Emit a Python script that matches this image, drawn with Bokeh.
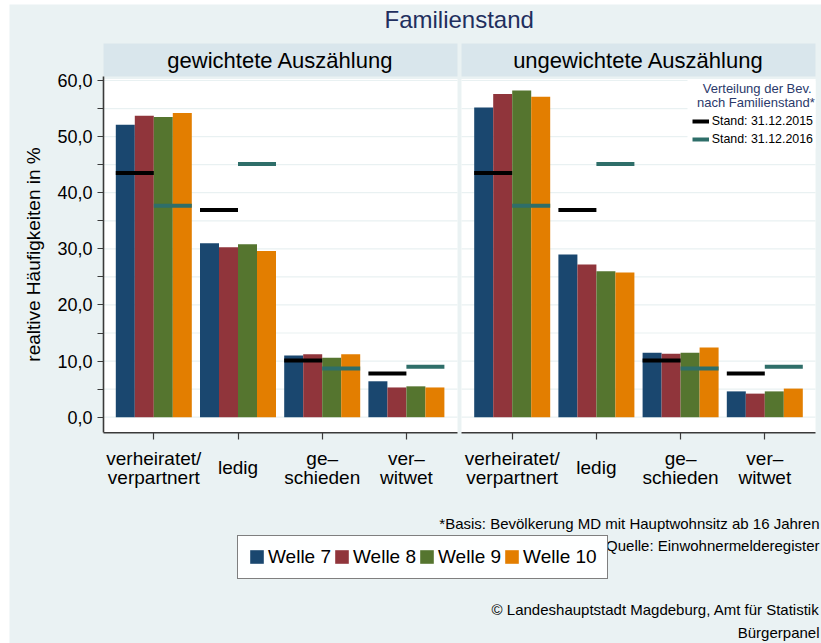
from bokeh.plotting import figure
from bokeh.models import ColumnDataSource, FixedTicker, Label, Legend, LegendItem, Range1d
from bokeh.embed import file_html
from bokeh.resources import INLINE

# ---------------- data ----------------
cat_lines = [["verheiratet/", "verpartnert"], ["ledig"], ["ge–", "schieden"], ["ver–", "witwet"]]
waves = ["Welle 7", "Welle 8", "Welle 9", "Welle 10"]
panel_titles = ["gewichtete Auszählung", "ungewichtete Auszählung"]

gew_w7 = [52.1, 31.0, 11.0, 6.4]
gew_w8 = [53.7, 30.3, 11.2, 5.3]
gew_w9 = [53.5, 30.8, 10.6, 5.5]
gew_w10 = [54.2, 29.6, 11.2, 5.3]

ungew_w7 = [55.2, 29.0, 11.5, 4.6]
ungew_w8 = [57.6, 27.2, 11.3, 4.2]
ungew_w9 = [58.2, 26.0, 11.5, 4.6]
ungew_w10 = [57.1, 25.8, 12.4, 5.1]

stand_2015 = [43.5, 36.9, 10.1, 7.8]
stand_2016 = [37.7, 45.1, 8.7, 9.0]

y_ticks = [0, 10, 20, 30, 40, 50, 60]
y_tick_labels = ["0,0", "10,0", "20,0", "30,0", "40,0", "50,0", "60,0"]
y_minor = [5, 15, 25, 35, 45, 55]
grid_ticks = [0, 5, 10, 15, 20, 25, 30, 35, 40, 45, 50, 55, 60]

ref_labels = ["Stand: 31.12.2015", "Stand: 31.12.2016"]
ref_title = ["Verteilung der Bev.", "nach Familienstand*"]
notes = ["*Basis: Bevölkerung MD mit Hauptwohnsitz ab 16 Jahren",
         "Quelle: Einwohnermelderegister",
         "© Landeshauptstadt Magdeburg, Amt für Statistik",
         "Bürgerpanel"]
title_text = "Familienstand"
y_label = "realtive Häufigkeiten in %"

# ---------------- style / geometry ----------------
BG = "#EAF2F3"
HEAD = "#D9E6EC"
GRID = "#E9F1F2"
AXC = "#3a3a3a"
NAVY = "#1F2F5E"
wave_colors = ["#1A476F", "#90353B", "#55752F", "#E37E00"]
c2015 = "#000000"
c2016 = "#2E6E69"
FONT = "Liberation Sans"

W, H = 821, 643
PXU = 84.2      # pixels per category step
X0PX = 153.3    # pixel position of first category centre
PYU = 5.612     # pixels per percent
Y0PX = 416.7    # pixel position of 0 %


def X(px):
    return 1 + (px - X0PX) / PXU


def Y(py):
    return (Y0PX - py) / PYU


p = figure(width=W, height=H, output_backend="svg", toolbar_location=None,
           x_range=Range1d(X(0), X(W)), y_range=Range1d(Y(H), Y(0)),
           min_border_left=0, min_border_right=0, min_border_top=0, min_border_bottom=0)
p.background_fill_color = "white"
p.border_fill_color = "white"
p.outline_line_color = None
p.grid.visible = False

shift = X(511.7) - 1
centers_l = [1, 2, 3, 4]
centers_r = [c + shift for c in centers_l]
centers = centers_l + centers_r
bw = 19 / PXU

# outer background
p.quad(left=[X(9)], right=[X(W)], bottom=[Y(H)], top=[Y(4)], fill_color=BG, line_color=None,
       level="image")

# panel backgrounds and headers
panels = [(103, 457), (461, 815)]
p.quad(left=[X(a) for a, b in panels], right=[X(b) for a, b in panels],
       bottom=[Y(432.3)] * 2, top=[Y(78.5)] * 2, fill_color="white", line_color=None, level="image")
p.quad(left=[X(a) for a, b in panels], right=[X(b) for a, b in panels],
       bottom=[Y(76)] * 2, top=[Y(43)] * 2, fill_color=HEAD, line_color=None, level="image")

# horizontal grid lines inside each panel
gx0, gx1, gy = [], [], []
for a, b in panels:
    for t in grid_ticks:
        gx0.append(X(a))
        gx1.append(X(b))
        gy.append(t)
p.segment(x0=gx0, x1=gx1, y0=gy, y1=gy, line_color=GRID, line_width=1.2)

# white box behind the reference-line legend
p.quad(left=[X(687)], right=[X(815)], bottom=[Y(148)], top=[Y(79)], fill_color="white", line_color=None)

# bars
series = [(gew_w7, ungew_w7), (gew_w8, ungew_w8), (gew_w9, ungew_w9), (gew_w10, ungew_w10)]
bar_renderers = []
for k, (g, u) in enumerate(series):
    xs = [c + (k - 1.5) * bw for c in centers]
    src = ColumnDataSource(dict(x=xs, top=list(g) + list(u)))
    r = p.vbar(x="x", top="top", bottom=0, width=bw, source=src,
               fill_color=wave_colors[k], line_color=None)
    bar_renderers.append(r)

# reference lines
vals15 = stand_2015 + stand_2015
vals16 = stand_2016 + stand_2016
r15 = p.segment(x0=[c - 2 * bw for c in centers], x1=centers, y0=vals15, y1=vals15,
                line_color=c2015, line_width=4)
r16 = p.segment(x0=centers, x1=[c + 2 * bw for c in centers], y0=vals16, y1=vals16,
                line_color=c2016, line_width=4)

# x axis lines per panel
p.segment(x0=[X(a) for a, b in panels], x1=[X(b) for a, b in panels],
          y0=[Y(432.3)] * 2, y1=[Y(432.3)] * 2, line_color=AXC, line_width=1.6)

# y axis
ya = p.yaxis[0]
ya.fixed_location = X(103)
ya.ticker = FixedTicker(ticks=y_ticks, minor_ticks=y_minor)
ya.major_label_overrides = {t: s for t, s in zip(y_ticks, y_tick_labels)}
ya.bounds = (Y(432.3), Y(76))
ya.axis_line_color = AXC
ya.axis_line_width = 1.6
ya.major_tick_line_color = AXC
ya.minor_tick_line_color = AXC
ya.major_tick_line_width = 1.2
ya.minor_tick_line_width = 1.2
ya.major_tick_out = 6
ya.major_tick_in = 0
ya.minor_tick_out = 6
ya.minor_tick_in = 0
ya.major_label_standoff = 5
ya.major_label_text_font = FONT
ya.major_label_text_font_size = "18px"
ya.major_label_text_color = "black"
ya.axis_label = y_label
ya.axis_label_text_font = FONT
ya.axis_label_text_font_size = "19px"
ya.axis_label_text_font_style = "normal"
ya.axis_label_text_color = "black"
ya.axis_label_standoff = 10

# x axis: ticks only, category names as text labels
xa = p.xaxis[0]
xa.fixed_location = Y(434)
xa.ticker = FixedTicker(ticks=centers)
xa.major_label_overrides = {c: "" for c in centers}
xa.axis_line_color = None
xa.minor_tick_line_color = None
xa.major_tick_line_color = AXC
xa.major_tick_line_width = 1.2
xa.major_tick_in = 2
xa.major_tick_out = 5

for c, lines in zip(centers, cat_lines + cat_lines):
    ys = [467] if len(lines) == 1 else [457.5, 477]
    for t, py in zip(lines, ys):
        p.add_layout(Label(x=c, y=Y(py), text=t, text_align="center", text_baseline="middle",
                           text_font=FONT, text_font_size="19px", text_color="black"))

# panel headers
for (a, b), t in zip(panels, panel_titles):
    p.add_layout(Label(x=X((a + b) / 2), y=Y(59.5), text=t, text_align="center",
                       text_baseline="middle", text_font=FONT, text_font_size="22px",
                       text_color="black"))

# title
p.add_layout(Label(x=X(458.7), y=Y(18.5), text=title_text, text_align="center",
                   text_baseline="middle", text_font=FONT, text_font_size="24px",
                   text_color=NAVY))

# reference legend title
for t, px, py in zip(ref_title, [756.7, 755.4], [88, 101.5]):
    p.add_layout(Label(x=X(px), y=Y(py), text=t, text_align="center", text_baseline="middle",
                       text_font=FONT, text_font_size="13px", text_color="#2B3A6B"))

leg_ref = Legend(items=[LegendItem(label=ref_labels[0], renderers=[r15]),
                        LegendItem(label=ref_labels[1], renderers=[r16])],
                 location=(691.7, H - 147.7), orientation="vertical",
                 glyph_width=17, glyph_height=18, label_height=18, label_standoff=3,
                 spacing=0, padding=0, margin=0,
                 label_text_font=FONT, label_text_font_size="12.4px", label_text_color="black",
                 background_fill_alpha=0, border_line_color=None)
p.add_layout(leg_ref)

leg_w = Legend(items=[LegendItem(label=w, renderers=[r]) for w, r in zip(waves, bar_renderers)],
               location=(237, H - 578.5), orientation="horizontal",
               glyph_width=17, glyph_height=17, label_standoff=3, spacing=2, padding=10,
               margin=0, label_text_font=FONT, label_text_font_size="19px",
               label_text_color="black", background_fill_color="white",
               border_line_color="black", border_line_width=1)
p.add_layout(leg_w)

# notes (right aligned near the right edge)
for t, py in zip(notes, [523, 545, 609, 632]):
    p.add_layout(Label(x=X(819), y=Y(py), text=t, text_align="right", text_baseline="middle",
                       text_font=FONT, text_font_size="15px", text_color="black"))

open("out.html", "w").write(file_html(p, INLINE))
